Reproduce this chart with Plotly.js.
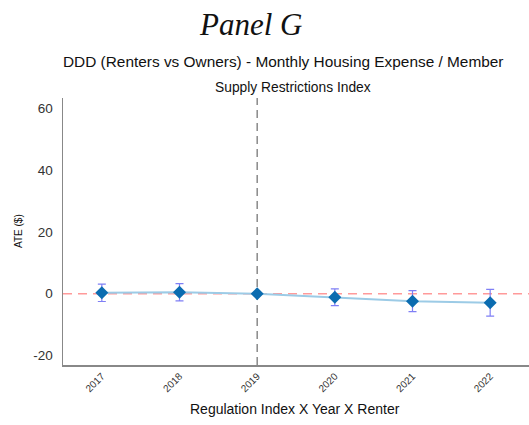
<!DOCTYPE html>
<html>
<head>
<meta charset="utf-8">
<script src="https://cdn.plot.ly/plotly-3.0.1.min.js"></script>
<style>html,body{margin:0;padding:0;background:#fff;}#chart{width:529px;height:425px;}</style>
</head>
<body>
<div id="chart"></div>
<script>
const years = [2017, 2018, 2019, 2020, 2021, 2022];
const tickLabels = ['2017', '2018', '2019', '2020', '2021', '2022'];
const ate = [0.3, 0.5, 0.0, -1.1, -2.4, -2.9];
const ciHalf = [2.8, 2.8, 0, 2.7, 3.4, 4.3];
const refYear = 2019;
const yTickVals = [-20, 0, 20, 40, 60];
const yTickText = ['-20', '0', '20', '40', '60'];

const font = 'Liberation Sans, Arial, Helvetica, sans-serif';

const traces = [
  {
    x: years, y: ate, type: 'scatter', mode: 'lines',
    line: {color: '#9ccbe6', width: 2},
    hoverinfo: 'skip', showlegend: false
  },
  {
    x: years, y: ate, type: 'scatter', mode: 'markers',
    marker: {symbol: 'diamond', size: 10, color: '#0b6cb0'},
    error_y: {type: 'data', array: ciHalf, visible: true, color: '#7f7ff5', thickness: 1.2, width: 4},
    showlegend: false
  }
];

const layout = {
  width: 529, height: 425,
  margin: {l: 63, r: 0, t: 98, b: 60},
  paper_bgcolor: '#fff', plot_bgcolor: '#fff',
  font: {family: font, color: '#222'},
  showlegend: false,
  xaxis: {
    range: [2016.5, 2022.5],
    tickvals: years, ticktext: tickLabels,
    tickangle: -45, tickfont: {size: 10, color: '#333'},
    showgrid: false, zeroline: false,
    showline: true, linecolor: '#888', linewidth: 1.5,
    ticks: ''
  },
  yaxis: {
    range: [-23, 63.2],
    tickvals: yTickVals, ticktext: yTickText,
    tickfont: {size: 13.5, color: '#333'},
    showgrid: false, zeroline: false,
    showline: true, linecolor: '#888', linewidth: 1.5,
    ticks: 'outside', ticklen: 6, tickcolor: 'rgba(0,0,0,0)'
  },
  shapes: [
    {type: 'line', xref: 'paper', x0: 0, x1: 1, yref: 'y', y0: 0, y1: 0,
     line: {color: '#ff9a9a', width: 1.5, dash: '9px,6px'}, layer: 'below'},
    {type: 'line', xref: 'x', x0: refYear, x1: refYear, yref: 'paper', y0: 0, y1: 1,
     line: {color: '#777', width: 1.3, dash: '8px,5px'}, layer: 'below'}
  ],
  annotations: [
    {text: '<i>Panel G</i>', showarrow: false,
     font: {family: 'Liberation Serif, Times New Roman, serif', size: 31, color: '#111'}},
    {text: 'DDD (Renters vs Owners) - Monthly Housing Expense / Member', showarrow: false,
     font: {family: font, size: 15.4, color: '#111'}},
    {text: 'Supply Restrictions Index', showarrow: false,
     font: {family: font, size: 13.8, color: '#111'}},
    {text: 'ATE ($)', showarrow: false, textangle: -90,
     font: {family: font, size: 10, color: '#111'}},
    {text: 'Regulation Index X Year X Renter', showarrow: false,
     font: {family: font, size: 14, color: '#111'}}
  ]
};

const W = 529, H = 425, L = 63, R = 0, T = 98, B = 60;
const pw = W - L - R, ph = H - T - B;
function px(x) { return (x - L) / pw; }
function py(y) { return (H - B - y) / ph; }
const pos = [[250, 24], [283, 62], [293, 88], [18, 231], [295, 409]];
layout.annotations.forEach((a, i) => {
  a.xref = 'paper'; a.yref = 'paper';
  a.x = px(pos[i][0]); a.y = py(pos[i][1]);
  a.xanchor = 'center'; a.yanchor = 'middle';
});

Plotly.newPlot('chart', traces, layout, {displayModeBar: false, staticPlot: true});
</script>
</body>
</html>
